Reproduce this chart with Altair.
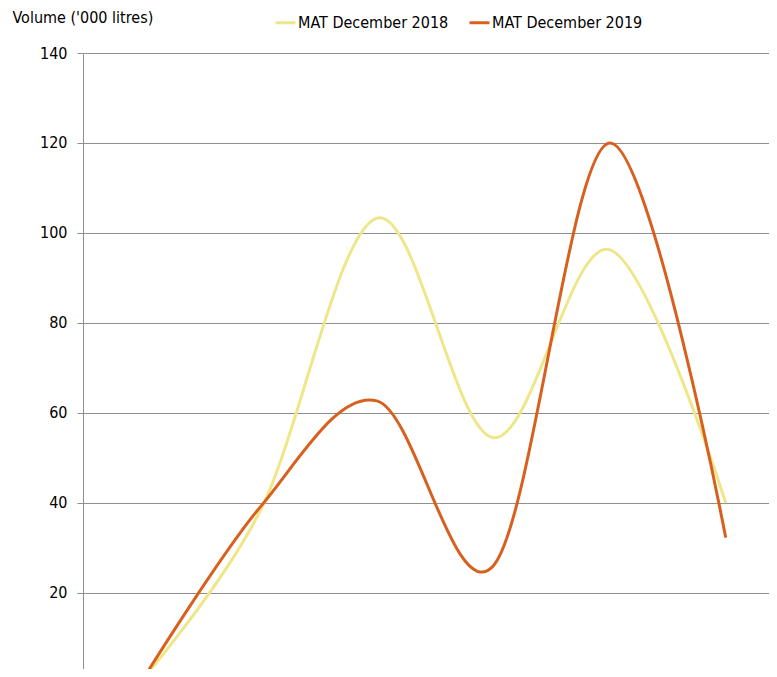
import altair as alt
import pandas as pd

categories = ["Cat 1", "Cat 2", "Cat 3", "Cat 4", "Cat 5", "Cat 6"]
series_2018 = [1.3, 38.4, 103.3, 54.5, 96.3, 40.0]
series_2019 = [1.3, 39.2, 62.7, 26.0, 120.0, 32.3]
series_names = ["MAT December 2018", "MAT December 2019"]
colors = ["#EFE68A", "#D8601F"]

rows = []
for i, c in enumerate(categories):
    rows.append({"cat": c, "idx": i, "series": series_names[0], "value": series_2018[i]})
    rows.append({"cat": c, "idx": i, "series": series_names[1], "value": series_2019[i]})
df = pd.DataFrame(rows)

FONT = "DejaVu Sans Condensed, Liberation Sans Narrow, Arial Narrow, Liberation Sans, sans-serif"

chart = alt.Chart(df).mark_line(interpolate="cardinal", strokeWidth=3, clip=True).encode(
    x=alt.X("idx:Q",
            scale=alt.Scale(domain=[-0.527, 5.372], nice=False, zero=False),
            axis=alt.Axis(title=None, labels=False, ticks=False, domain=False, grid=False)),
    y=alt.Y("value:Q", scale=alt.Scale(domain=[3.11, 140], nice=False, zero=False),
            axis=alt.Axis(values=[20, 40, 60, 80, 100, 120, 140],
                          title="Volume  ('000 litres)", titleAngle=0, titleAlign="left",
                          titleBaseline="middle", titleX=-71, titleY=-36,
                          titleFont=FONT, titleFontSize=16, titleFontWeight="normal",
                          titleColor="#000000",
                          labelFont=FONT, labelFontSize=16, labelColor="#000000",
                          labelPadding=10, tickSize=6, tickColor="#8f8f8f",
                          domainColor="#8f8f8f", gridColor="#8f8f8f", gridWidth=1)),
    color=alt.Color("series:N", sort=series_names,
                    scale=alt.Scale(domain=series_names, range=colors),
                    legend=alt.Legend(title=None, orient="none", direction="horizontal",
                                      legendX=191, legendY=-42,
                                      symbolType="stroke", symbolSize=400,
                                      symbolStrokeWidth=3, labelOffset=1,
                                      columnPadding=14,
                                      labelFont=FONT, labelFontSize=16,
                                      labelColor="#000000")),
    order="idx:Q",
).properties(
    width=686, height=616,
    autosize=alt.AutoSizeParams(type="none"),
    padding={"left": 75, "top": 45, "right": 0, "bottom": 0},
).configure_view(stroke=None)

chart.save("out.html", embed_options={"renderer": "svg", "actions": False})
